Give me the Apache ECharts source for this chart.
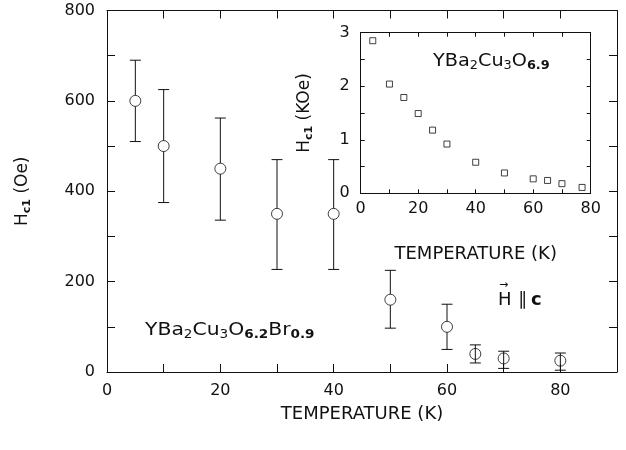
<!DOCTYPE html>
<html>
<head>
<meta charset="utf-8">
<script src="https://cdn.jsdelivr.net/npm/echarts@6/dist/echarts.min.js"></script>
<style>html,body{margin:0;padding:0;background:#fff}#c{width:626px;height:450px}</style>
</head>
<body>
<div id="c"></div>
<script>
// Main panel: YBa2Cu3O6.2Br0.9
const tempMain = [5, 10, 20, 30, 40, 50, 60, 65, 70, 80];
const hc1Main = [600, 500, 450, 350, 350, 160, 100, 40, 30, 25];
const errLow = [510, 375, 336, 227, 227, 97, 50, 20, 8, 4];
const errHigh = [690, 625, 562, 470, 470, 225, 150, 60, 46, 42];
// Inset: YBa2Cu3O6.9
const tempInset = [4.2, 10, 15, 20, 25, 30, 40, 50, 60, 65, 70, 77];
const hc1Inset = [2.85, 2.04, 1.79, 1.49, 1.18, 0.92, 0.58, 0.38, 0.27, 0.24, 0.18, 0.11];

const FONT = 'DejaVu Sans';
const ink = '#111';

const chart = echarts.init(document.getElementById('c'), null, {renderer: 'canvas'});

function axisBase(extra) {
  return Object.assign({
    type: 'value',
    axisLine: {show: true, onZero: false, lineStyle: {color: ink, width: 1}},
    axisTick: {show: true, inside: true, length: 8, lineStyle: {color: ink, width: 1}},
    splitLine: {show: false},
    axisLabel: {show: false}
  }, extra);
}

const subRich = {
  m: {fontFamily: FONT, fontSize: 17, color: ink},
  s: {fontFamily: FONT, fontSize: 11, fontWeight: 'bold', color: ink, padding: [9, 0, 0, 0]}
};

const option = {
  backgroundColor: '#fff',
  animation: false,
  grid: [
    {left: 107, right: 9, top: 10.5, bottom: 78, show: false},
    {left: 360.7, top: 32.7, width: 230, height: 160.6, show: true, backgroundColor: '#fff', borderWidth: 0, z: 3}
  ],
  xAxis: [
    axisBase({gridIndex: 0, position: 'bottom', min: 0, max: 90, interval: 10,
      axisLabel: {show: true, margin: 11, fontFamily: FONT, fontSize: 16, color: ink,
        formatter: v => (v % 20 === 0 ? String(v) : '')},
      name: 'TEMPERATURE (K)', nameLocation: 'middle', nameGap: 33,
      nameTextStyle: {fontFamily: FONT, fontSize: 18, color: ink}}),
    axisBase({gridIndex: 0, position: 'top', min: 0, max: 90, interval: 10}),
    axisBase({gridIndex: 1, position: 'bottom', min: 0, max: 80, interval: 10, z: 4,
      axisTick: {show: true, inside: true, length: 4, lineStyle: {color: ink}},
      axisLabel: {show: true, margin: 8, fontFamily: FONT, fontSize: 16, color: ink,
        formatter: v => (v % 20 === 0 ? String(v) : '')},
      name: 'TEMPERATURE (K)', nameLocation: 'middle', nameGap: 52,
      nameTextStyle: {fontFamily: FONT, fontSize: 18, color: ink}}),
    axisBase({gridIndex: 1, position: 'top', min: 0, max: 80, interval: 10, z: 4,
      axisTick: {show: true, inside: true, length: 4, lineStyle: {color: ink}}})
  ],
  yAxis: [
    axisBase({gridIndex: 0, position: 'left', min: 0, max: 800, interval: 100,
      axisLabel: {show: true, margin: 12, fontFamily: FONT, fontSize: 16, color: ink,
        formatter: v => (v % 200 === 0 ? String(v) : '')},
      name: '{m|H}{s|c1}{m| (Oe)}', nameLocation: 'middle', nameGap: 74,
      nameTextStyle: {rich: subRich}}),
    axisBase({gridIndex: 0, position: 'right', min: 0, max: 800, interval: 100}),
    axisBase({gridIndex: 1, position: 'left', min: 0, max: 3, interval: 0.5, z: 4,
      axisTick: {show: true, inside: true, length: 4, lineStyle: {color: ink}},
      axisLabel: {show: true, margin: 11, fontFamily: FONT, fontSize: 16, color: ink,
        formatter: v => (Math.abs(v - Math.round(v)) < 1e-9 ? String(v) : '')},
      name: '{m|H}{s|c1}{m| (KOe)}', nameLocation: 'middle', nameGap: 46,
      nameTextStyle: {rich: subRich}}),
    axisBase({gridIndex: 1, position: 'right', min: 0, max: 3, interval: 0.5, z: 4,
      axisTick: {show: true, inside: true, length: 4, lineStyle: {color: ink}}})
  ],
  series: [
    {
      type: 'custom',
      xAxisIndex: 0, yAxisIndex: 0,
      data: tempMain.map((t, i) => [t, hc1Main[i], errLow[i], errHigh[i]]),
      encode: {x: 0, y: 1},
      renderItem: function (params, api) {
        const x = api.value(0), y = api.value(1);
        const pT = api.coord([x, api.value(3)]);
        const pB = api.coord([x, api.value(2)]);
        const pC = api.coord([x, y]);
        const r = 5.5, cw = 5.5;
        const st = {stroke: ink, lineWidth: 1};
        const ch = [];
        if (pB[1] - pT[1] > 30) {
          ch.push({type: 'line', shape: {x1: pT[0], y1: pT[1], x2: pC[0], y2: pC[1] - r}, style: st});
          ch.push({type: 'line', shape: {x1: pC[0], y1: pC[1] + r, x2: pB[0], y2: pB[1]}, style: st});
        } else {
          ch.push({type: 'line', shape: {x1: pT[0], y1: pT[1], x2: pB[0], y2: pB[1]}, style: st});
        }
        ch.push({type: 'line', shape: {x1: pT[0] - cw, y1: pT[1], x2: pT[0] + cw, y2: pT[1]}, style: st});
        ch.push({type: 'line', shape: {x1: pB[0] - cw, y1: pB[1], x2: pB[0] + cw, y2: pB[1]}, style: st});
        return {type: 'group', children: ch};
      },
      z: 2
    },
    {
      type: 'scatter',
      xAxisIndex: 0, yAxisIndex: 0,
      data: tempMain.map((t, i) => [t, hc1Main[i]]),
      symbol: 'circle', symbolSize: 11,
      itemStyle: {color: 'rgba(0,0,0,0)', borderColor: ink, borderWidth: 1},
      z: 3
    },
    {
      type: 'scatter',
      xAxisIndex: 2, yAxisIndex: 2,
      data: tempInset.map((t, i) => [t, hc1Inset[i]]),
      symbol: 'rect', symbolSize: 6,
      itemStyle: {color: '#fff', borderColor: ink, borderWidth: 1},
      z: 5
    }
  ],
  graphic: [
    {
      type: 'text', x: 145, y: 319, scaleX: 1.13, z: 10,
      style: {
        text: '{m|YBa}{s|2}{m|Cu}{s|3}{m|O}{b|6.2}{m|Br}{b|0.9}',
        rich: {
          m: {fontFamily: FONT, fontSize: 18, fill: ink},
          s: {fontFamily: FONT, fontSize: 12, fill: ink, padding: [10, 0, 0, 0]},
          b: {fontFamily: FONT, fontSize: 12, fontWeight: 'bold', fill: ink, padding: [10, 0, 0, 0]}
        }
      }
    },
    {
      type: 'text', x: 433, y: 50, scaleX: 1.07, z: 10,
      style: {
        text: '{m|YBa}{s|2}{m|Cu}{s|3}{m|O}{b|6.9}',
        rich: {
          m: {fontFamily: FONT, fontSize: 18, fill: ink},
          s: {fontFamily: FONT, fontSize: 12, fill: ink, padding: [10, 0, 0, 0]},
          b: {fontFamily: FONT, fontSize: 12, fontWeight: 'bold', fill: ink, padding: [10, 0, 0, 0]}
        }
      }
    },
    {
      type: 'text', left: 498, top: 291, z: 10,
      style: {text: 'H', fontFamily: FONT, fontSize: 18, fill: ink}
    },
    {
      type: 'text', left: 499, top: 280, z: 10,
      style: {text: '\u2192', fontFamily: FONT, fontSize: 11, fill: ink}
    },
    {
      type: 'text', left: 518, top: 291, z: 10,
      style: {text: '\u2225', fontFamily: FONT, fontSize: 18, fill: ink}
    },
    {
      type: 'text', left: 531, top: 291, z: 10,
      style: {text: 'c', fontFamily: FONT, fontSize: 18, fontWeight: 'bold', fill: ink}
    }
  ]
};
chart.setOption(option);
</script>
</body>
</html>
